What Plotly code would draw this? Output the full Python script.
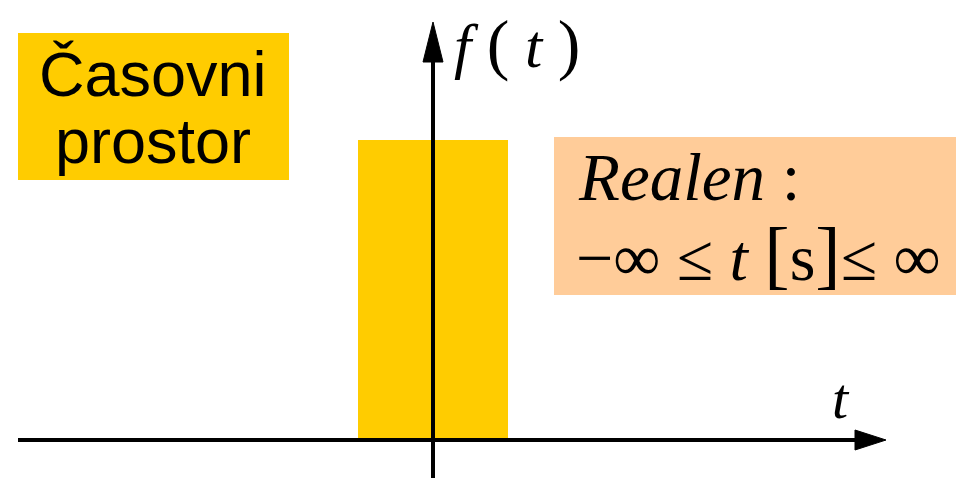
import plotly.graph_objects as go

# data
pulse_center = [0.0]
pulse_amplitude = [1.0]
pulse_width = [1.0]

W, H = 959, 481
x0px, y0px = 433, 440         # origin in pixels
sx, sy = 150.0, 300.0         # pixels per unit
xr = [(0 - x0px) / sx, (W - x0px) / sx]
yr = [(y0px - H) / sy, (y0px - 0) / sy]

def px2x(p): return (p - x0px) / sx
def px2y(p): return (y0px - p) / sy

fig = go.Figure()
fig.add_trace(go.Bar(x=pulse_center, y=pulse_amplitude, width=pulse_width,
                     marker=dict(color="#FFCC00", line=dict(width=0)),
                     hoverinfo="skip", showlegend=False))

black = "#000000"
lw = 4
shapes = []
# horizontal axis
shapes.append(dict(type="line", xref="x", yref="y", x0=px2x(18), y0=0, x1=px2x(858), y1=0,
                   line=dict(color=black, width=lw)))
hx_b, hx_t, hh = px2x(855), px2x(886), 10 / sy
shapes.append(dict(type="path", xref="x", yref="y",
                   path=f"M {hx_b} {hh} L {hx_t} 0 L {hx_b} {-hh} Z",
                   fillcolor=black, line=dict(color=black, width=1)))
# vertical axis
shapes.append(dict(type="line", xref="x", yref="y", x0=0, y0=px2y(478), x1=0, y1=px2y(58),
                   line=dict(color=black, width=lw)))
vy_b, vy_t, hw = px2y(62), px2y(22), 10 / sx
shapes.append(dict(type="path", xref="x", yref="y",
                   path=f"M {-hw} {vy_b} L 0 {vy_t} L {hw} {vy_b} Z",
                   fillcolor=black, line=dict(color=black, width=1)))
# text boxes
def rect(x0, y0, x1, y1, color):
    return dict(type="rect", xref="paper", yref="paper", x0=x0 / W, x1=x1 / W,
                y0=1 - y1 / H, y1=1 - y0 / H, fillcolor=color, line=dict(width=0), layer="below")
shapes.append(rect(18, 33, 289, 180, "#FFCC00"))
shapes.append(rect(554, 137, 956, 295, "#FFCC99"))

def ann(text, x, y, size, family, xanchor="left"):
    return dict(text=text, xref="paper", yref="paper", x=x / W, y=1 - y / H,
                xanchor=xanchor, yanchor="middle", showarrow=False,
                font=dict(size=size, family=family, color=black))

sans = "Liberation Sans, Arial, sans-serif"
serif = "Liberation Serif, Times New Roman, serif"
big = "<span style='font-size:76px'>%s</span>"
paren = "<span style='font-size:68px'>%s</span>"
annotations = [
    ann("Časovni", 153, 74, 63, sans, "center"),
    ann("prostor", 153, 141, 63, sans, "center"),
    ann("<i>f</i> " + paren % "(" + " <i>t</i> " + paren % ")", 452, 44, 62, serif),
    ann("<i>t</i>", 830, 398, 58, serif),
    ann("<i>Realen</i> :", 576, 177, 67, serif),
    ann("−∞ ≤ <i>t</i> " + big % "[" + "s" + big % "]" + "≤ ∞", 574, 254, 66, serif),
]

fig.update_layout(
    width=W, height=H, margin=dict(l=0, r=0, t=0, b=0),
    paper_bgcolor="white", plot_bgcolor="white",
    xaxis=dict(range=xr, visible=False, fixedrange=True),
    yaxis=dict(range=yr, visible=False, fixedrange=True),
    shapes=shapes, annotations=annotations, bargap=0, showlegend=False,
)
fig.write_html("out.html", config={"displayModeBar": False},
               post_script="document.body.style.margin='0px';")
